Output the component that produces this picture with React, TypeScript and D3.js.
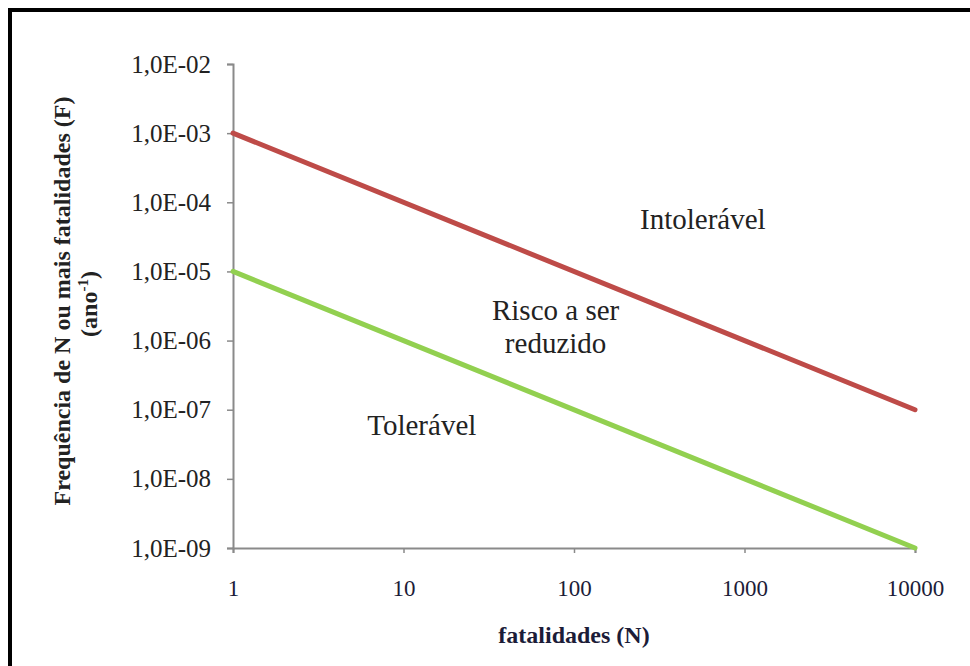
import React, { useEffect, useRef } from 'react'
import * as d3 from 'd3'

// fatalities (N) on the x axis, frequency F (per year) on the y axis
const xTicks = [1, 10, 100, 1000, 10000]
const yTicks = [1e-2, 1e-3, 1e-4, 1e-5, 1e-6, 1e-7, 1e-8, 1e-9]

// the two criterion lines, as [N, F]
const intolerableLine: [number, number][] = [[1, 1e-3], [10000, 1e-7]]
const tolerableLine: [number, number][] = [[1, 1e-5], [10000, 1e-9]]

// region names, anchored at (N, F) of their first baseline
const regionLabels = [
  { lines: ['Intolerável'], n: 570, f: 4.1e-5 },
  { lines: ['Risco a ser', 'reduzido'], n: 78, f: 2e-6 },
  { lines: ['Tolerável'], n: 12.8, f: 4.3e-8 }
]

const serif = '"Liberation Serif", "Times New Roman", serif'

const fmtY = (d: number) =>
  '1,0E-' + String(-Math.round(Math.log10(d))).padStart(2, '0')

export default function App() {
  const xAxisRef = useRef<SVGGElement>(null)
  const yAxisRef = useRef<SVGGElement>(null)

  const x = d3.scaleLog().domain([1, 10000]).range([233, 915])
  const y = d3.scaleLog().domain([1e-9, 1e-2]).range([548, 64])

  const line = d3.line<[number, number]>()
    .x(d => x(d[0]))
    .y(d => y(d[1]))

  useEffect(() => {
    const xAxis = d3.axisBottom(x)
      .tickValues(xTicks)
      .tickFormat(d => String(d))
      .tickSize(5)
      .tickPadding(27)
    const yAxis = d3.axisLeft(y)
      .tickValues(yTicks)
      .tickFormat(d => fmtY(+d))
      .tickSize(6)
      .tickPadding(16)

    const gx = d3.select(xAxisRef.current!).call(xAxis)
    const gy = d3.select(yAxisRef.current!).call(yAxis)

    for (const g of [gx, gy]) {
      g.select('.domain').attr('stroke', '#8a8a8a').attr('stroke-width', 2)
      g.selectAll('.tick line').attr('stroke', '#8a8a8a').attr('stroke-width', 1.5)
      g.selectAll('.tick text').attr('font-family', serif)
    }
    gx.selectAll('.tick text').attr('fill', '#1c1c38').attr('font-size', 23)
    gy.selectAll('.tick text').attr('fill', '#222').attr('font-size', 25)
  }, [])

  return (
    <svg width={970} height={666}
      style={{ position: 'absolute', left: 0, top: 0, background: '#fff' }}>
      <rect x={10} y={10} width={990} height={700} fill="none" stroke="#000" strokeWidth={4} />

      <g ref={yAxisRef} transform="translate(233,0)" />
      <g ref={xAxisRef} transform="translate(0,548)" />

      <path d={line(intolerableLine)!} fill="none" stroke="#be4b48" strokeWidth={5} strokeLinecap="round" />
      <path d={line(tolerableLine)!} fill="none" stroke="#92d050" strokeWidth={5} strokeLinecap="round" />

      {regionLabels.map((r, i) => (
        <text key={i} x={x(r.n)} y={y(r.f)} textAnchor="middle"
          fontFamily={serif} fontSize={29} fill="#222">
          {r.lines.map((t, j) => (
            <tspan key={j} x={x(r.n)} dy={j === 0 ? 0 : 33}>{t}</tspan>
          ))}
        </text>
      ))}

      <text x={574} y={643} textAnchor="middle" fontFamily={serif}
        fontSize={24} fontWeight="bold" fill="#1c1c38">fatalidades (N)</text>

      <text transform="translate(70,301) rotate(-90)" textAnchor="middle"
        fontFamily={serif} fontSize={24} fontWeight="bold" fill="#222">
        Frequência de N ou mais fatalidades (F)
      </text>
      <text transform="translate(97,304) rotate(-90)" textAnchor="middle"
        fontFamily={serif} fontSize={24} fontWeight="bold" fill="#222">
        (ano<tspan dy={-9} fontSize={15}>-1</tspan><tspan dy={9}>)</tspan>
      </text>
    </svg>
  )
}
